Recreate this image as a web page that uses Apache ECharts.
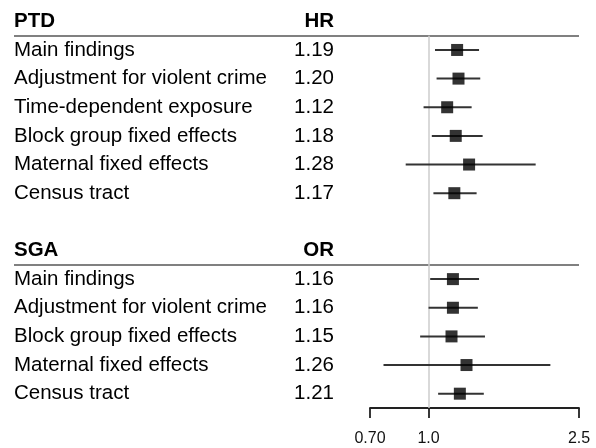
<!DOCTYPE html>
<html>
<head>
<meta charset="utf-8">
<script src="https://cdn.jsdelivr.net/npm/echarts@6/dist/echarts.min.js"></script>
<style>
  html, body { margin: 0; padding: 0; background: #fff; }
  #chart { width: 596px; height: 448px; }
</style>
</head>
<body>
<div id="chart"></div>
<script>
// PTD 结果
var ptdLabels = ['Main findings', 'Adjustment for violent crime', 'Time-dependent exposure',
                 'Block group fixed effects', 'Maternal fixed effects', 'Census tract'];
var ptdEst = [1.19, 1.20, 1.12, 1.18, 1.28, 1.17];
var ptdLower = [1.04, 1.05, 0.97, 1.02, 0.87, 1.03];
var ptdUpper = [1.36, 1.37, 1.30, 1.39, 1.92, 1.34];

// SGA 结果
var sgaLabels = ['Main findings', 'Adjustment for violent crime', 'Block group fixed effects',
                 'Maternal fixed effects', 'Census tract'];
var sgaEst = [1.16, 1.16, 1.15, 1.26, 1.21];
var sgaLower = [1.01, 1.00, 0.95, 0.76, 1.06];
var sgaUpper = [1.36, 1.35, 1.41, 2.10, 1.40];

var tickValues = [0.70, 1.0, 2.5];
var tickLabels = ['0.70', '1.0', '2.5'];

var FONT = '"Liberation Sans", Arial, sans-serif';

/**
 * 拼行：标题行 + 各行 + 空行
 */
var rowNames = [];
var rowValues = [];
var rows = [];   // [est, lower, upper, rowIndex]
rowNames.push('{h|PTD}');
rowValues.push('{h|HR}');
ptdLabels.forEach(function (name, i) {
    rowNames.push(name);
    rowValues.push(ptdEst[i].toFixed(2));
    rows.push([ptdEst[i], ptdLower[i], ptdUpper[i], rowNames.length - 1]);
});
rowNames.push('');
rowValues.push('');
rowNames.push('{h|SGA}');
rowValues.push('{h|OR}');
sgaLabels.forEach(function (name, i) {
    rowNames.push(name);
    rowValues.push(sgaEst[i].toFixed(2));
    rows.push([sgaEst[i], sgaLower[i], sgaUpper[i], rowNames.length - 1]);
});
var nRows = rowNames.length;
var firstRows = [1, rowNames.indexOf('{h|SGA}') + 1];

var option = {
    animation: false,
    textStyle: { fontFamily: FONT },
    grid: [
        { left: 14, right: 17, top: 7, bottom: 40 },
        { left: 370, right: 17, top: 7, bottom: 40 }
    ],
    xAxis: [
        { gridIndex: 0, type: 'value', show: false, min: 0, max: 1 },
        {
            gridIndex: 1,
            type: 'log',
            position: 'bottom',
            min: 0.7,
            max: 2.5,
            axisLine: { show: true, onZero: false, lineStyle: { color: '#222', width: 1.8 } },
            axisTick: { show: true, length: 10, customValues: tickValues, lineStyle: { color: '#222', width: 1.8 } },
            axisLabel: {
                customValues: tickValues,
                margin: 23,
                fontSize: 16,
                color: '#111',
                fontFamily: FONT,
                formatter: function (v) {
                    for (var i = 0; i < tickValues.length; i++) {
                        if (Math.abs(tickValues[i] - v) < 1e-6) return tickLabels[i];
                    }
                    return '';
                }
            },
            splitLine: { show: false },
            minorTick: { show: false }
        }
    ],
    yAxis: [
        {
            gridIndex: 0,
            type: 'category',
            inverse: true,
            data: rowNames,
            axisLine: { show: false },
            axisTick: { show: false },
            axisLabel: {
                inside: true,
                align: 'left',
                margin: 0,
                interval: 0,
                fontSize: 20.5,
                color: '#000',
                fontFamily: FONT,
                rich: { h: { fontSize: 20.5, fontWeight: 'bold', color: '#000', fontFamily: FONT } }
            },
            splitLine: {
                show: true,
                showMaxLine: false,
                interval: function (index) { return firstRows.indexOf(index) >= 0; },
                lineStyle: { color: '#808080', width: 1.8 }
            }
        },
        {
            gridIndex: 1,
            type: 'category',
            inverse: true,
            position: 'left',
            data: rowValues,
            axisLine: { show: false },
            axisTick: { show: false },
            axisLabel: {
                align: 'right',
                margin: 36,
                interval: 0,
                fontSize: 20.5,
                color: '#000',
                fontFamily: FONT,
                rich: { h: { fontSize: 20.5, fontWeight: 'bold', color: '#000', fontFamily: FONT } }
            },
            splitLine: { show: false }
        },
        {
            gridIndex: 1,
            type: 'value',
            inverse: true,
            position: 'right',
            min: -0.5,
            max: nRows - 0.5,
            axisLine: { onZero: false },
            show: false
        }
    ],
    series: [
        {
            // 置信区间
            type: 'custom',
            xAxisIndex: 1,
            yAxisIndex: 2,
            data: rows,
            renderItem: function (params, api) {
                var p1 = api.coord([api.value(1), api.value(3)]);
                var p2 = api.coord([api.value(2), api.value(3)]);
                return {
                    type: 'line',
                    shape: { x1: p1[0], y1: p1[1], x2: p2[0], y2: p2[1] },
                    style: { stroke: '#333', lineWidth: 2 }
                };
            },
            encode: { x: [1, 2], y: 3 },
            z: 2
        },
        {
            type: 'scatter',
            xAxisIndex: 1,
            yAxisIndex: 2,
            symbol: 'rect',
            symbolSize: 12,
            itemStyle: { color: '#000' },
            data: rows.map(function (r) { return [r[0], r[3]]; }),
            z: 3,
            markLine: {
                silent: true,
                symbol: 'none',
                label: { show: false },
                lineStyle: { color: '#ccc', width: 1.5, type: 'solid' },
                data: [[{ coord: [1, 0.5] }, { coord: [1, nRows - 0.5] }]],
                z: 1
            }
        }
    ]
};

var chart = echarts.init(document.getElementById('chart'));
chart.setOption(option);
</script>
</body>
</html>
